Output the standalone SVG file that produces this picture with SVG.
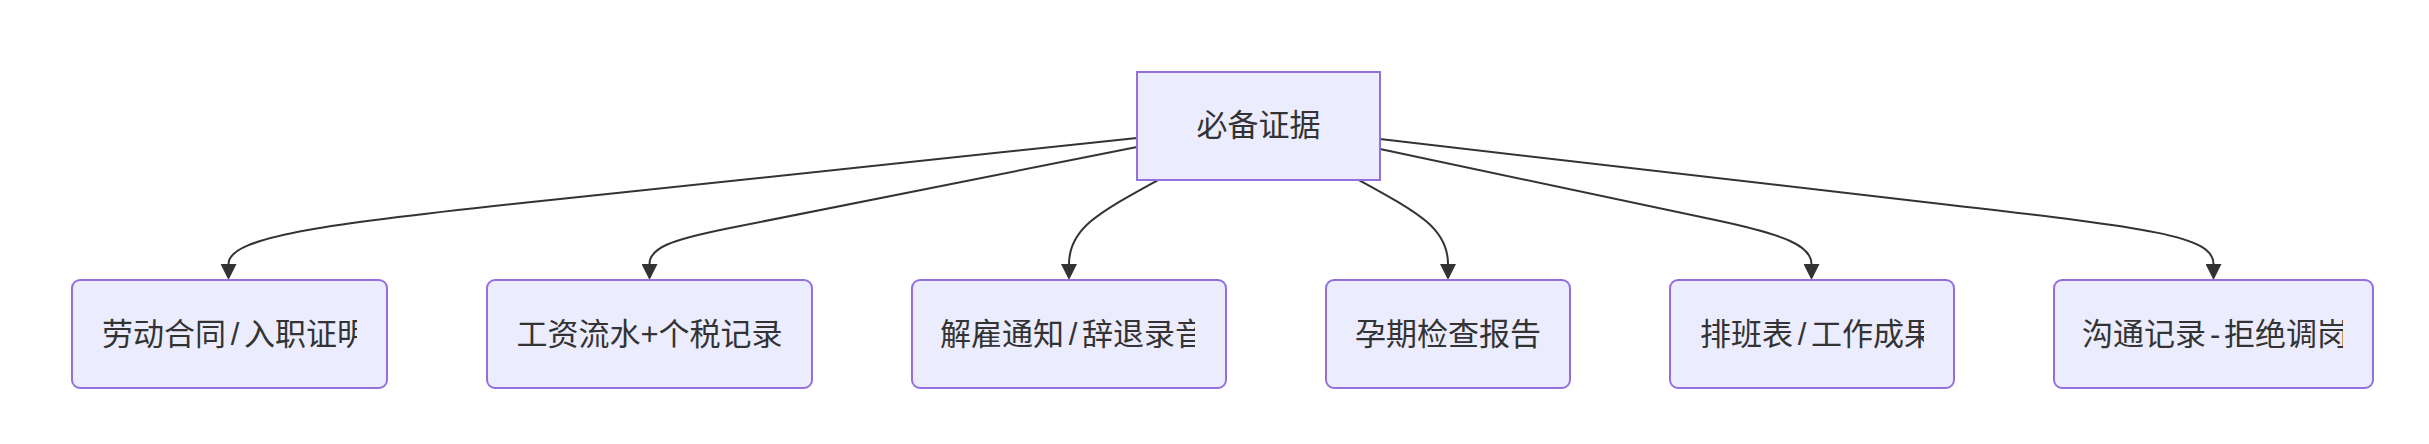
<svg xmlns="http://www.w3.org/2000/svg" width="2429" height="444" viewBox="0 0 2429 444">
<style>
.node rect{fill:#ECECFF;stroke:#9370DB;stroke-width:2}
.lbl{font-family:"Liberation Sans","Noto Sans CJK SC",sans-serif;font-size:31px;fill:#333}
.edge{fill:none;stroke:#333;stroke-width:2}
</style>
<defs>
<marker id="arrow" viewBox="0 0 16 16" refX="0" refY="8" markerWidth="16" markerHeight="16" markerUnits="userSpaceOnUse" orient="auto">
<path d="M0,0 L16,8 L0,16 z" fill="#333"/>
</marker>
<clipPath id="c1" clipPathUnits="userSpaceOnUse"><rect x="100" y="290" width="257" height="90"/></clipPath>
<clipPath id="c3" clipPathUnits="userSpaceOnUse"><rect x="938" y="290" width="257" height="90"/></clipPath>
<clipPath id="c5" clipPathUnits="userSpaceOnUse"><rect x="1698" y="290" width="226" height="90"/></clipPath>
<clipPath id="c6" clipPathUnits="userSpaceOnUse"><rect x="2080" y="290" width="263" height="90"/></clipPath>
</defs>
<rect width="2429" height="444" fill="#ffffff"/>
<g id="connectors">
<path class="edge" marker-end="url(#arrow)" d="M1137,138 L560,199 C330,223 228.5,236 228.5,264"/>
<path class="edge" marker-end="url(#arrow)" d="M1137,147 L730,228 C670,240 649.5,248 649.5,264"/>
<path class="edge" marker-end="url(#arrow)" d="M1158,180 C1100,212 1069,228 1069,264"/>
<path class="edge" marker-end="url(#arrow)" d="M1359,180 C1417,212 1448,228 1448,264"/>
<path class="edge" marker-end="url(#arrow)" d="M1380,149 L1720,221 C1785,235 1811.5,246 1811.5,264"/>
<path class="edge" marker-end="url(#arrow)" d="M1380,139 L1950,205 C2150,228 2213.5,236 2213.5,264"/>
</g>
<g id="node-root" class="node">
<rect x="1137" y="72" width="243" height="108"/>
<text class="lbl" x="1258.5" y="136" text-anchor="middle">必备证据</text>
</g>
<g id="node-contract" class="node">
<rect x="72" y="280" width="315" height="108" rx="8" ry="8"/>
<text class="lbl" clip-path="url(#c1)" x="102" y="345">劳动合同<tspan x="230.7">/</tspan><tspan x="244">入职证明</tspan></text>
</g>
<g id="node-salary" class="node">
<rect x="487" y="280" width="325" height="108" rx="8" ry="8"/>
<text class="lbl" x="516.5" y="345">工资流水<tspan x="640.5">+</tspan><tspan x="658.5">个税记录</tspan></text>
</g>
<g id="node-dismissal" class="node">
<rect x="912" y="280" width="314" height="108" rx="8" ry="8"/>
<text class="lbl" clip-path="url(#c3)" x="940" y="345">解雇通知<tspan x="1068.7">/</tspan><tspan x="1082">辞退录音</tspan></text>
</g>
<g id="node-pregnancy" class="node">
<rect x="1326" y="280" width="244" height="108" rx="8" ry="8"/>
<text class="lbl" x="1448" y="345" text-anchor="middle">孕期检查报告</text>
</g>
<g id="node-schedule" class="node">
<rect x="1670" y="280" width="284" height="108" rx="8" ry="8"/>
<text class="lbl" clip-path="url(#c5)" x="1700" y="345">排班表<tspan x="1797.7">/</tspan><tspan x="1811">工作成果</tspan></text>
</g>
<g id="node-communication" class="node">
<rect x="2054" y="280" width="319" height="108" rx="8" ry="8"/>
<text class="lbl" clip-path="url(#c6)" x="2082" y="345">沟通记录<tspan x="2209.9">-</tspan><tspan x="2224">拒绝调岗</tspan></text>
</g>
</svg>
